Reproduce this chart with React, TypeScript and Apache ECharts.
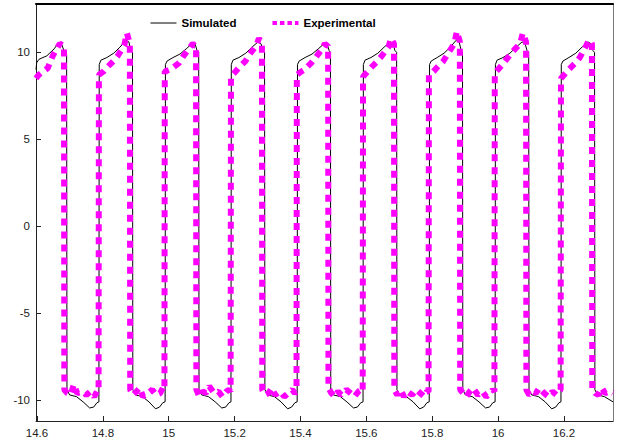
import React, { useEffect, useRef } from "react";
import * as echarts from "echarts";

// Tick labels
const xTicks = [14.6, 14.8, 15, 15.2, 15.4, 15.6, 15.8, 16, 16.2];
const yTicks = [-10, -5, 0, 5, 10];

const seriesNames = ["Simulated", "Experimental"];

// Simulated trace [time, value]
const simulated: [number, number][] = [
  [14.597, 9.0], [14.599, 9.4], [14.606, 9.6], [14.630, 9.8], [14.652, 10.2], [14.664, 10.5], [14.674, 10.5], [14.684, 10.0], [14.690, 9.9],
  [14.691, -9.4], [14.699, -9.7], [14.720, -9.8], [14.740, -10.1], [14.760, -10.45], [14.772, -10.4], [14.782, -10.15], [14.788, -10.1],
  [14.789, 9.3], [14.794, 9.55], [14.812, 9.7], [14.833, 9.95], [14.852, 10.3], [14.870, 10.7], [14.879, 10.6], [14.885, 10.1], [14.890, 10.0],
  [14.891, -9.4], [14.899, -9.7], [14.920, -9.8], [14.940, -10.1], [14.960, -10.5], [14.972, -10.4], [14.982, -10.15], [14.989, -10.1],
  [14.990, 9.3], [14.995, 9.5], [15.013, 9.7], [15.034, 9.9], [15.053, 10.2], [15.071, 10.5], [15.080, 10.5], [15.086, 10.1], [15.091, 10.0],
  [15.092, -9.4], [15.100, -9.7], [15.121, -9.8], [15.141, -10.1], [15.161, -10.45], [15.173, -10.4], [15.183, -10.15], [15.189, -10.1],
  [15.190, 9.3], [15.195, 9.55], [15.213, 9.7], [15.234, 9.95], [15.253, 10.3], [15.271, 10.6], [15.280, 10.5], [15.286, 10.1], [15.291, 10.0],
  [15.292, -9.4], [15.300, -9.7], [15.321, -9.8], [15.341, -10.1], [15.361, -10.5], [15.373, -10.4], [15.383, -10.15], [15.390, -10.1],
  [15.391, 9.3], [15.396, 9.5], [15.414, 9.7], [15.435, 9.9], [15.454, 10.2], [15.472, 10.5], [15.481, 10.5], [15.487, 10.1], [15.491, 10.0],
  [15.492, -9.4], [15.500, -9.7], [15.521, -9.8], [15.541, -10.1], [15.561, -10.45], [15.573, -10.4], [15.583, -10.15], [15.590, -10.1],
  [15.591, 9.3], [15.596, 9.55], [15.614, 9.7], [15.635, 9.95], [15.654, 10.3], [15.672, 10.6], [15.681, 10.5], [15.687, 10.1], [15.692, 10.0],
  [15.693, -9.4], [15.701, -9.7], [15.722, -9.8], [15.742, -10.1], [15.762, -10.5], [15.774, -10.4], [15.784, -10.15], [15.791, -10.1],
  [15.792, 9.3], [15.797, 9.5], [15.815, 9.7], [15.836, 9.95], [15.855, 10.3], [15.873, 10.7], [15.882, 10.6], [15.888, 10.1], [15.892, 10.0],
  [15.893, -9.4], [15.901, -9.7], [15.922, -9.8], [15.942, -10.1], [15.962, -10.45], [15.974, -10.4], [15.984, -10.15], [15.991, -10.1],
  [15.992, 9.3], [15.997, 9.55], [16.015, 9.7], [16.036, 9.95], [16.055, 10.3], [16.073, 10.6], [16.082, 10.5], [16.088, 10.1], [16.093, 10.0],
  [16.094, -9.4], [16.102, -9.7], [16.123, -9.8], [16.143, -10.1], [16.163, -10.5], [16.175, -10.4], [16.185, -10.15], [16.191, -10.1],
  [16.192, 9.3], [16.197, 9.5], [16.215, 9.7], [16.236, 9.95], [16.255, 10.3], [16.273, 10.6], [16.282, 10.5], [16.288, 10.1], [16.293, 10.0],
  [16.294, -9.4], [16.302, -9.7], [16.323, -9.8], [16.349, -10.1],
];

// Experimental trace [time, value]
const experimental: [number, number][] = [
  [14.597, 8.5], [14.605, 8.7], [14.633, 9.1], [14.648, 9.8], [14.669, 10.5], [14.678, 10.4], [14.682, 10.4],
  [14.683, -9.4], [14.692, -9.6], [14.702, -9.7], [14.712, -9.1], [14.722, -9.6], [14.737, -9.5], [14.750, -9.7], [14.762, -9.5], [14.774, -9.8], [14.782, -9.5], [14.787, -9.5],
  [14.788, 8.7], [14.802, 8.9], [14.811, 9.1], [14.832, 9.5], [14.845, 9.8], [14.865, 10.4], [14.873, 11.1], [14.879, 10.7], [14.882, 10.6],
  [14.883, -9.4], [14.892, -9.7], [14.902, -9.5], [14.912, -9.3], [14.922, -9.8], [14.937, -9.6], [14.950, -9.4], [14.962, -9.7], [14.974, -9.6], [14.982, -9.3], [14.987, -9.4],
  [14.988, 8.9], [15.002, 9.0], [15.011, 9.1], [15.032, 9.4], [15.045, 9.8], [15.065, 10.3], [15.073, 10.5], [15.079, 10.4], [15.083, 10.4],
  [15.084, -9.4], [15.093, -9.8], [15.103, -9.5], [15.113, -9.6], [15.123, -9.2], [15.138, -9.6], [15.151, -9.5], [15.163, -9.8], [15.175, -9.5], [15.183, -9.4], [15.188, -9.5],
  [15.189, 8.6], [15.203, 8.9], [15.212, 9.1], [15.233, 9.5], [15.246, 9.9], [15.266, 10.4], [15.274, 10.8], [15.280, 10.6], [15.283, 10.5],
  [15.284, -9.4], [15.293, -9.7], [15.303, -9.6], [15.313, -9.3], [15.323, -9.7], [15.338, -9.5], [15.351, -9.8], [15.363, -9.6], [15.375, -9.4], [15.383, -9.6], [15.388, -9.5],
  [15.389, 8.7], [15.403, 8.9], [15.412, 9.0], [15.433, 9.4], [15.446, 9.7], [15.466, 10.2], [15.474, 10.5], [15.480, 10.4], [15.484, 10.4],
  [15.485, -9.3], [15.494, -9.6], [15.504, -9.8], [15.514, -9.5], [15.524, -9.7], [15.539, -9.4], [15.552, -9.6], [15.564, -9.8], [15.576, -9.5], [15.584, -9.4], [15.589, -9.5],
  [15.590, 8.6], [15.604, 8.9], [15.613, 9.1], [15.634, 9.5], [15.647, 9.8], [15.667, 10.3], [15.675, 10.8], [15.681, 10.6], [15.684, 10.5],
  [15.685, -9.4], [15.694, -9.7], [15.704, -9.4], [15.714, -9.8], [15.724, -9.5], [15.739, -9.7], [15.752, -9.4], [15.764, -9.6], [15.776, -9.8], [15.784, -9.5], [15.789, -9.5],
  [15.790, 8.7], [15.804, 8.9], [15.813, 9.1], [15.834, 9.5], [15.847, 9.9], [15.867, 10.5], [15.875, 11.2], [15.881, 10.8], [15.884, 10.6],
  [15.885, -9.4], [15.894, -9.6], [15.904, -9.8], [15.914, -9.5], [15.924, -9.3], [15.939, -9.7], [15.952, -9.5], [15.964, -9.8], [15.976, -9.6], [15.984, -9.4], [15.989, -9.5],
  [15.990, 8.8], [16.004, 9.1], [16.013, 9.3], [16.034, 9.8], [16.047, 10.1], [16.067, 10.5], [16.075, 11.1], [16.081, 10.8], [16.085, 10.6],
  [16.086, -9.4], [16.095, -9.7], [16.105, -9.5], [16.115, -9.6], [16.125, -9.3], [16.140, -9.6], [16.153, -9.8], [16.165, -9.5], [16.177, -9.7], [16.185, -9.5], [16.190, -9.4],
  [16.191, 8.5], [16.205, 8.8], [16.214, 9.0], [16.235, 9.4], [16.248, 9.7], [16.268, 10.4], [16.276, 10.7], [16.282, 10.6], [16.285, 10.5],
  [16.286, -9.4], [16.295, -9.6], [16.305, -9.7], [16.315, -9.3], [16.325, -9.6], [16.340, -9.5], [16.349, -9.6],
];

const X_MIN = 14.597;
const X_MAX = 16.349;
const Y_MIN = -11.2;
const Y_MAX = 12.78;

const labelFont = "'Liberation Sans Narrow', 'Liberation Sans', Arial, sans-serif";

export default function App() {
  const ref = useRef<HTMLDivElement>(null);

  useEffect(() => {
    if (!ref.current) return;
    const chart = echarts.init(ref.current, undefined, { renderer: "svg" });
    chart.setOption({
      animation: false,
      backgroundColor: "#ffffff",
      grid: { left: 36, right: 5, top: 4, bottom: 20, containLabel: false },
      legend: {
        left: 150,
        top: 17,
        padding: 0,
        itemWidth: 26,
        itemHeight: 12,
        itemGap: 34,
        itemStyle: { opacity: 0 },
        textStyle: {
          fontFamily: "'Liberation Sans', Arial, sans-serif",
          fontWeight: "bold",
          fontSize: 11.5,
          color: "#000",
        },
        data: [
          { name: seriesNames[0], lineStyle: { width: 1 } },
          { name: seriesNames[1], lineStyle: { width: 4, type: [4.5, 3] } },
        ],
      },
      xAxis: [
        {
          type: "value",
          position: "bottom",
          min: X_MIN,
          max: X_MAX,
          axisLine: { show: true, onZero: false, lineStyle: { color: "#222", width: 1 } },
          axisTick: { show: true, inside: true, length: 5, customValues: xTicks, lineStyle: { color: "#222" } },
          axisLabel: {
            customValues: xTicks,
            margin: 6,
            color: "#222",
            fontSize: 11.5,
            fontFamily: labelFont,
          },
          splitLine: { show: false },
        },
        {
          type: "value",
          position: "top",
          min: X_MIN,
          max: X_MAX,
          axisLine: { show: true, onZero: false, lineStyle: { color: "#000", width: 2 } },
          axisTick: { show: false },
          axisLabel: { show: false },
          splitLine: { show: false },
        },
      ],
      yAxis: [
        {
          type: "value",
          position: "left",
          min: Y_MIN,
          max: Y_MAX,
          axisLine: { show: true, onZero: false, lineStyle: { color: "#222", width: 1 } },
          axisTick: { show: true, inside: true, length: 5, customValues: yTicks, lineStyle: { color: "#222" } },
          axisLabel: {
            customValues: yTicks,
            margin: 6,
            color: "#222",
            fontSize: 11.5,
            fontFamily: labelFont,
          },
          splitLine: { show: false },
        },
        {
          type: "value",
          position: "right",
          min: Y_MIN,
          max: Y_MAX,
          axisLine: { show: true, onZero: false, lineStyle: { color: "#777", width: 1 } },
          axisTick: { show: false },
          axisLabel: { show: false },
          splitLine: { show: false },
        },
      ],
      series: [
        {
          name: seriesNames[0],
          type: "line",
          xAxisIndex: 0,
          yAxisIndex: 0,
          data: simulated,
          symbol: "none",
          showSymbol: false,
          lineStyle: { color: "#000000", width: 1 },
          itemStyle: { color: "#000000" },
          z: 2,
        },
        {
          name: seriesNames[1],
          type: "line",
          xAxisIndex: 0,
          yAxisIndex: 0,
          data: experimental,
          symbol: "none",
          showSymbol: false,
          lineStyle: { color: "#ff00ff", width: 6, type: [7, 6], cap: "butt" },
          itemStyle: { color: "#ff00ff" },
          z: 3,
        },
      ],
    });
    return () => chart.dispose();
  }, []);

  return (
    <div
      ref={ref}
      style={{ position: "fixed", left: 0, top: 0, width: 618, height: 441, background: "#fff" }}
    />
  );
}
